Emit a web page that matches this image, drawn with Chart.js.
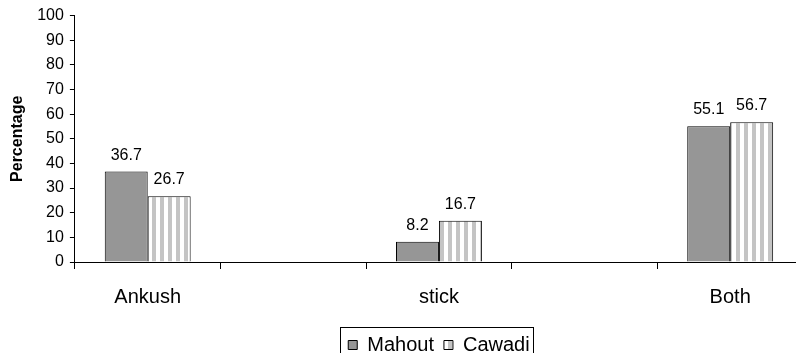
<!DOCTYPE html>
<html>
<head>
<meta charset="utf-8">
<script src="https://cdn.jsdelivr.net/npm/chart.js@4/dist/chart.umd.min.js"></script>
<style>
  html, body { margin: 0; padding: 0; background: #fff; overflow: hidden; }
  #wrap { width: 810px; height: 365px; position: relative; }
</style>
</head>
<body>
<div id="wrap"><canvas id="chart"></canvas></div>
<script>
// ---- data ----
const categories = ['Ankush', '', 'stick', '', 'Both'];
const mahout = [36.7, null, 8.2, null, 55.1];
const cawadi = [26.7, null, 16.7, null, 56.7];
const yTicks = { min: 0, max: 100, step: 10 };

const FONT = 'Arial, "Liberation Sans", sans-serif';

// vertical stripe fill used for the Cawadi series
function stripePattern() {
  const c = document.createElement('canvas');
  c.width = 8; c.height = 8;
  const g = c.getContext('2d');
  g.fillStyle = '#ffffff';
  g.fillRect(0, 0, 8, 8);
  g.fillStyle = '#c4c4c4';
  g.fillRect(0, 0, 4, 8);
  return g.createPattern(c, 'repeat');
}

// value labels above each bar
const valueLabels = {
  id: 'valueLabels',
  afterDatasetsDraw(chart) {
    const ctx = chart.ctx;
    ctx.save();
    ctx.font = '16px ' + FONT;
    ctx.fillStyle = '#000';
    ctx.textAlign = 'center';
    ctx.textBaseline = 'alphabetic';
    chart.data.datasets.forEach((ds, i) => {
      chart.getDatasetMeta(i).data.forEach((bar, j) => {
        const v = ds.data[j];
        if (v == null) return;
        ctx.fillText(v.toFixed(1), bar.x, bar.y - 12);
      });
    });
    ctx.restore();
  }
};

// frame round the legend, like the original
const legendFrame = {
  id: 'legendFrame',
  afterDraw(chart) {
    const boxes = chart.legend && chart.legend.legendHitBoxes;
    if (!boxes || !boxes.length) return;
    const first = boxes[0], last = boxes[boxes.length - 1];
    const ctx = chart.ctx;
    ctx.save();
    ctx.strokeStyle = '#000';
    ctx.lineWidth = 1;
    const x0 = Math.round(first.left - 8) + 0.5;
    const x1 = Math.round(last.left + last.width + 3) + 0.5;
    const y0 = Math.round(first.top - 8) + 0.5;
    const y1 = Math.round(first.top + first.height + 12) + 0.5;
    ctx.strokeRect(x0, y0, x1 - x0, y1 - y0);
    ctx.restore();
  }
};

new Chart(document.getElementById('chart'), {
  type: 'bar',
  data: {
    labels: categories,
    datasets: [
      {
        label: 'Mahout',
        data: mahout,
        backgroundColor: '#969696',
        borderColor: '#000',
        borderWidth: 1,
      },
      {
        label: 'Cawadi',
        data: cawadi,
        backgroundColor: stripePattern(),
        borderColor: '#000',
        borderWidth: 1,
      },
    ],
  },
  options: {
    responsive: true,
    maintainAspectRatio: false,
    animation: false,
    categoryPercentage: 0.59,
    barPercentage: 1.0,
    layout: { padding: { left: 8, right: 7, top: 10, bottom: 0 } },
    plugins: {
      tooltip: { enabled: false },
      legend: {
        position: 'bottom',
        fullSize: false,
        labels: {
          color: '#000',
          font: { size: 20, family: FONT },
          boxWidth: 9,
          boxHeight: 9,
          padding: 10,
        },
      },
    },
    scales: {
      x: {
        grid: { offset: true, drawOnChartArea: false, tickLength: 7, color: '#000' },
        border: { color: '#000' },
        ticks: { color: '#000', font: { size: 20, family: FONT }, padding: 16, maxRotation: 0, autoSkip: false },
      },
      y: {
        min: yTicks.min,
        max: yTicks.max,
        grid: { drawOnChartArea: false, tickLength: 5, color: '#000' },
        border: { color: '#000' },
        ticks: { stepSize: yTicks.step, color: '#000', font: { size: 16, family: FONT }, padding: 6 },
        title: {
          display: true,
          text: 'Percentage',
          color: '#000',
          font: { size: 16, weight: 'bold', family: FONT },
          padding: { top: 0, bottom: 4 },
        },
      },
    },
  },
  plugins: [valueLabels, legendFrame],
});
</script>
</body>
</html>
